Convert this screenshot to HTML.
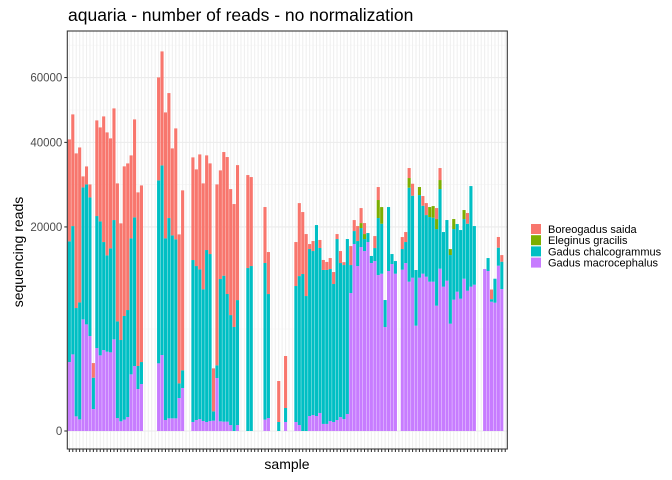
<!DOCTYPE html>
<html><head><meta charset="utf-8">
<style>
body{margin:0;background:#fff;}
svg{display:block;font-family:"Liberation Sans",sans-serif;}
</style></head>
<body>
<svg id="chart" width="672" height="480" viewBox="0 0 672 480" xmlns="http://www.w3.org/2000/svg">
<rect x="0" y="0" width="672" height="480" fill="#fff"/>
<text x="68" y="21" font-size="17.5" fill="#000">aquaria - number of reads - no normalization</text>
<g id="grid"></g>
<g id="bars"></g>
<rect x="67.3" y="31" width="440" height="418" fill="none" stroke="#333" stroke-width="1.07"/>
<g id="axes"></g>
<text transform="translate(23,252) rotate(-90)" text-anchor="middle" font-size="14" fill="#000">sequencing reads</text>
<text x="287" y="469" text-anchor="middle" font-size="14" fill="#000">sample</text>
<g id="legend"></g>
</svg>
<script>
const species = ["Boreogadus saida","Eleginus gracilis","Gadus chalcogrammus","Gadus macrocephalus"];
const colors = ["#F8766D","#7CAE00","#00BFC4","#C77CFF"];
const yTicks = [0,20000,40000,60000];
const yTickLabels = ["0","20000","40000","60000"];
const N = 128;
const macrocephalus = [2285,2820,103,65,5985,5460,4330,232,3307,2748,3149,3021,2971,4034,81,45,62,94,1541,2028,847,1060,0,0,0,0,2198,2773,58,77,77,77,523,888,0,0,39,58,69,48,39,48,51,1348,45,42,42,17,0,17,0,0,0,0,0,0,0,62,81,0,0,0,0,39,0,0,39,17,0,0,108,123,108,156,24,24,48,39,58,94,69,139,9142,16786,13069,16252,15553,17147,13548,13873,11682,11882,5192,12290,13388,11882,0,12495,13548,10706,11286,5326,11286,11882,11433,10706,10706,7541,12650,10000,10850,5530,8280,9320,8406,11139,9453,10000,10279,0,0,12598,12290,8030,7906,13122,9679,0];
const chalcogrammus = [6990,7905,5635,6570,8365,9410,9230,471,8365,8620,5600,4455,5192,6836,4486,3175,5159,5496,8879,10610,254,232,0,0,0,0,16076,17268,15842,19265,16076,15380,103,150,0,0,12598,11385,10752,8322,14201,13388,42,77,9725,10233,7824,5808,5192,7500,0,0,12754,13069,0,0,0,11782,7381,0,0,39,0,94,0,0,8879,10657,11833,8748,13388,12911,17512,13069,11385,11385,11090,9142,15726,11385,11385,14701,376,81,300,173,69,39,24,81,1560,1200,350,1966,48,77,0,205,212,4242,3227,1488,3280,2220,1825,2007,1966,2821,3047,1435,1767,2264,2397,2198,2264,1709,2155,4864,1652,0,0,0,81,3,276,156,359,0];
const gracilis = [0,0,0,0,0,0,0,0,0,0,0,0,0,0,0,0,0,0,0,0,0,0,0,0,0,0,0,0,0,0,0,0,0,0,0,0,0,0,0,0,0,0,0,0,0,0,0,0,0,0,0,0,0,0,0,0,0,0,0,0,0,0,0,0,0,0,0,0,0,0,0,0,0,0,0,0,0,0,0,0,0,0,0,0,0,12,12,0,0,0,156,133,0,0,0,0,0,0,0,45,0,0,31,0,0,48,65,48,39,0,0,17,48,0,0,39,0,0,0,0,0,0,0,0,0,0,0,0];
const saida = [4995,5990,11485,11530,58,155,81,103,4393,4242,7580,7262,5808,5986,9142,6534,10752,10326,3307,4610,14478,14982,0,0,0,0,5093,6239,7621,7500,3633,5915,10657,15553,0,0,5060,4486,6348,5394,4302,3946,888,15726,5668,7342,9010,7621,7262,8748,0,0,4152,3802,0,0,0,1505,847,0,0,807,0,1298,0,0,929,2558,1845,1845,12,48,0,31,48,31,58,69,12,69,4,0,173,58,108,108,58,0,0,69,81,0,0,0,0,0,0,69,48,48,69,0,0,45,69,0,0,58,69,0,0,0,0,0,0,0,55,0,0,0,0,0,0,45,0,55,21,0];

const NS="http://www.w3.org/2000/svg";
const panelL=67.3, panelR=507.3, panelT=31, panelB=449, zeroY=431, k=1.443;
const step=(panelR-panelL)/(N-1+1.2);
function xScale(i){return panelL+(0.6+i)*step;}
function ySqrtLen(v){return k*Math.sqrt(v);}
function yScale(v){return zeroY-ySqrtLen(v);}
function mk(tag,attrs,parent){const e=document.createElementNS(NS,tag);for(const a in attrs)e.setAttribute(a,attrs[a]);parent.appendChild(e);return e;}

const grid=document.getElementById('grid');
for(let j=0;j<yTicks.length;j++){
  const a=Math.sqrt(yTicks[j]), b=j+1<yTicks.length?Math.sqrt(yTicks[j+1]):Math.sqrt(yTicks[j])+(Math.sqrt(yTicks[j])-Math.sqrt(yTicks[j-1]));
  const y=zeroY-k*(a+b)/2;
  if(y>panelT){const l=mk('line',{x1:panelL,x2:panelR,y1:y,y2:y,stroke:'#f3f3f3','stroke-width':0.55},grid);
  
  }
}
for(let i=0;i<N;i++){
  const x=xScale(i);
  const l=mk('line',{x1:x,x2:x,y1:panelT,y2:panelB,stroke:'#efefef','stroke-width':1.07},grid);
  
  
}
yTicks.forEach(function(t){
  const y=yScale(t);
  const l=mk('line',{x1:panelL,x2:panelR,y1:y,y2:y,stroke:'#ebebeb','stroke-width':1.07},grid);
  
  
});

const bars=document.getElementById('bars');
const series=[macrocephalus,chalcogrammus,gracilis,saida];
const sColors=[colors[3],colors[2],colors[1],colors[0]];
const sNames=['macrocephalus','chalcogrammus','gracilis','saida'];
const bw=step*0.9;
for(let i=0;i<N;i++){
  let base=0;
  for(let s=0;s<series.length;s++){
    const v=series[s][i];
    if(v<=0)continue;
    const h=ySqrtLen(v);
    const r=mk('rect',{x:xScale(i)-bw/2,y:zeroY-base-h,width:bw,height:h,fill:sColors[s]},bars);
    
    
    base+=h;
  }
}

const axes=document.getElementById('axes');
yTicks.forEach(function(t,j){
  const y=yScale(t);
  const tk=mk('line',{x1:panelL-3,x2:panelL,y1:y,y2:y,stroke:'#333','stroke-width':1.07},axes);
  
  
  const tx=mk('text',{x:panelL-5,y:y+4,'text-anchor':'end','font-size':11.5,fill:'#4d4d4d'},axes);
  tx.textContent=yTickLabels[j];
  
  
});
for(let i=0;i<N;i++){
  const x=xScale(i);
  const tk=mk('line',{x1:x,x2:x,y1:panelB,y2:panelB+3,stroke:'#333','stroke-width':1.07},axes);
  
  
}

const legend=document.getElementById('legend');
species.forEach(function(name,j){
  const y=224+j*11.2;
  const r=mk('rect',{x:531,y:y,width:10,height:10,fill:colors[j]},legend);
  
  
  const t=mk('text',{x:548,y:y+9,'font-size':11,fill:'#000'},legend);
  t.textContent=name;
  
  
});
</script>
</body></html>
